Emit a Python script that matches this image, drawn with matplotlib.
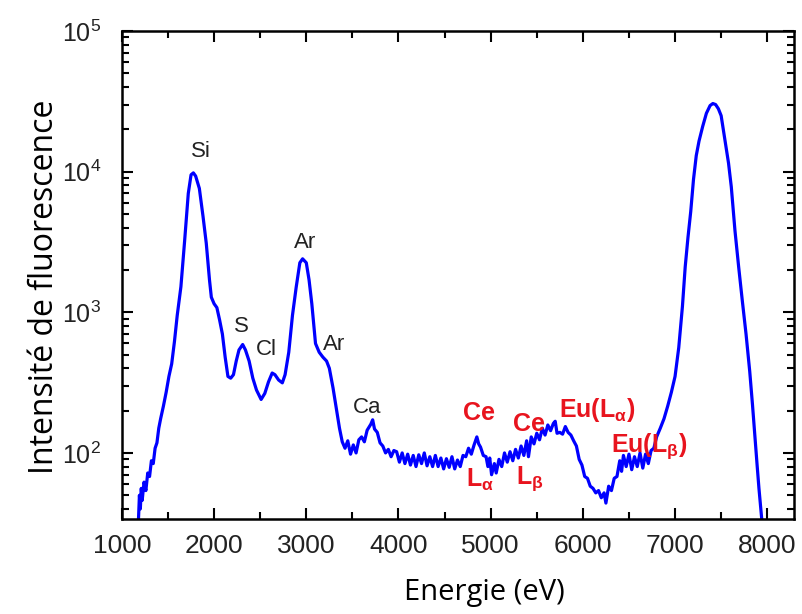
import numpy as np
import matplotlib.pyplot as plt
from matplotlib.ticker import MultipleLocator, LogLocator

plt.rcParams['font.family'] = ['Liberation Sans', 'DejaVu Sans']
plt.rcParams['mathtext.fontset'] = 'custom'
plt.rcParams['mathtext.rm'] = 'Liberation Sans'
plt.rcParams['mathtext.it'] = 'Liberation Sans:italic'
plt.rcParams['mathtext.bf'] = 'Liberation Sans:bold'

# spectre (energie en eV, intensite)
energie = [1180, 1190, 1200, 1210, 1220, 1240, 1260, 1280, 1300, 1320, 1340, 1360, 1380,
           1400, 1420, 1450, 1480, 1510, 1540, 1570, 1600, 1640, 1680, 1720, 1750, 1775,
           1800, 1840, 1880, 1915, 1950, 1970, 2000, 2030, 2060, 2090, 2120, 2150, 2180,
           2210, 2240, 2270, 2310, 2340, 2380, 2420, 2460, 2510, 2550, 2590, 2630, 2660,
           2700, 2740, 2770, 2810, 2850, 2890, 2930, 2960, 3000, 3030, 3060, 3100, 3140,
           3180, 3220, 3250, 3290, 3330, 3360, 3390, 3420, 3450, 3480, 3510, 3540, 3570,
           3600, 3630, 3660, 3700, 3720, 3740, 3770, 3800, 3830, 3860, 3890, 3920, 3950,
           3980, 4010, 4040, 4070, 4100, 4130, 4160, 4190, 4220, 4250, 4280, 4310, 4340,
           4370, 4400, 4430, 4460, 4490, 4520, 4550, 4580, 4610, 4640, 4670, 4700, 4730,
           4760, 4790, 4820, 4850, 4870, 4890, 4920, 4950, 4970, 4990, 5010, 5040, 5060,
           5090, 5120, 5150, 5180, 5210, 5240, 5270, 5300, 5330, 5360, 5390, 5410, 5440,
           5470, 5500, 5530, 5560, 5590, 5620, 5650, 5680, 5700, 5720, 5750, 5780, 5810,
           5840, 5870, 5900, 5930, 5960, 5990, 6020, 6050, 6080, 6110, 6140, 6170, 6200,
           6230, 6250, 6280, 6310, 6340, 6370, 6400, 6420, 6440, 6470, 6500, 6530, 6560,
           6590, 6620, 6650, 6680, 6710, 6740, 6770, 6800, 6840, 6880, 6920, 6960, 7000,
           7040, 7080, 7110, 7140, 7170, 7200, 7230, 7260, 7300, 7340, 7380, 7410, 7440,
           7470, 7500, 7540, 7580, 7610, 7650, 7690, 7730, 7770, 7810, 7840, 7870, 7890,
           7910, 7940]
intensite = [34, 50, 40, 56, 46, 62, 54, 72, 68, 88, 84, 108, 118,
             150, 175, 215, 270, 350, 430, 620, 950, 1520, 3200, 7000, 9500, 9800,
             9300, 7600, 4800, 3100, 1700, 1280, 1150, 1080, 880, 700, 480, 350, 340,
             360, 450, 540, 590, 540, 450, 340, 280, 240, 265, 320, 370, 360,
             330, 315, 360, 520, 950, 1500, 2250, 2400, 2250, 1700, 1150, 600, 520,
             480, 450, 400, 290, 200, 150, 120, 108, 122, 98, 114, 100, 124,
             130, 120, 145, 160, 172, 148, 140, 118, 112, 100, 106, 94, 104,
             102, 86, 100, 84, 98, 82, 96, 80, 97, 84, 100, 81, 94,
             80, 96, 80, 92, 77, 91, 79, 94, 77, 89, 80, 96, 94,
             108, 98, 114, 130, 116, 110, 96, 94, 80, 92, 70, 84, 72,
             90, 80, 100, 86, 102, 88, 106, 92, 112, 96, 122, 94, 130,
             116, 138, 124, 150, 134, 158, 144, 162, 168, 138, 140, 136, 154,
             140, 134, 122, 112, 90, 82, 68, 66, 58, 56, 52, 54, 48,
             52, 44, 58, 54, 66, 68, 88, 74, 96, 80, 98, 76, 94,
             80, 100, 78, 98, 84, 104, 108, 130, 150, 175, 215, 270, 350,
             560, 1100, 2100, 3400, 5200, 8800, 13000, 16500, 21000, 26000, 29500, 30500, 30000,
             28000, 25000, 17000, 11500, 7800, 3800, 2100, 1200, 700, 380, 220, 120, 82,
             56, 34]

# etiquettes des raies : texte, energie, intensite
noirs = ["Si", "S", "Cl", "Ar", "Ar", "Ca"]
noirs_x = [1860, 2300, 2565, 2990, 3305, 3665]
noirs_y = [13800, 790, 540, 3160, 590, 210]

rouges = ["Ce", r"L$_\mathregular{\alpha}$", "Ce", r"L$_\mathregular{\beta}$",
          r"Eu(L$_\mathregular{\alpha}$)", r"Eu(L$_\mathregular{\beta}$)"]
rouges_x = [4870, 4885, 5420, 5420, 6160, 6720]
rouges_y = [193, 64, 161, 66, 202, 112]

fig = plt.figure(figsize=(8.02, 6.14), dpi=100)
ax = fig.add_axes([0.152, 0.155, 0.838, 0.7945])

ax.plot(energie, intensite, color='#0000ff', lw=2.3)
ax.set_yscale('log')
ax.set_xlim(1000, 8290)
ax.set_ylim(34, 1e5)

for t, x, y in zip(noirs, noirs_x, noirs_y):
    ax.text(x, y, t, ha='center', va='center', fontsize=16, color='#222222')
for t, x, y in zip(rouges, rouges_x, rouges_y):
    ax.text(x, y, t, ha='center', va='center', fontsize=18, color='#e8141e', fontweight='bold')

ax.xaxis.set_major_locator(MultipleLocator(1000))
ax.xaxis.set_minor_locator(MultipleLocator(500))
ax.yaxis.set_major_locator(LogLocator(base=10))
ax.yaxis.set_minor_locator(LogLocator(base=10, subs=np.arange(2, 10)))
ax.tick_params(which='both', direction='in', top=True, right=True, width=1.5,
               labelcolor='#222222')
ax.tick_params(axis='x', labelsize=19, pad=11)
ax.tick_params(axis='y', labelsize=18, pad=15)
ax.tick_params(which='major', length=8)
ax.tick_params(which='minor', length=5)
for s in ax.spines.values():
    s.set_linewidth(1.8)

ax.set_xlabel("Energie (eV)", fontsize=21, family='Open Sans')
ax.set_ylabel("Intensité de fluorescence", fontsize=23, family='Open Sans')
ax.xaxis.set_label_coords(0.54, -0.122)
ax.yaxis.set_label_coords(-0.09, 0.475)

fig.savefig("out.png", dpi=100)
